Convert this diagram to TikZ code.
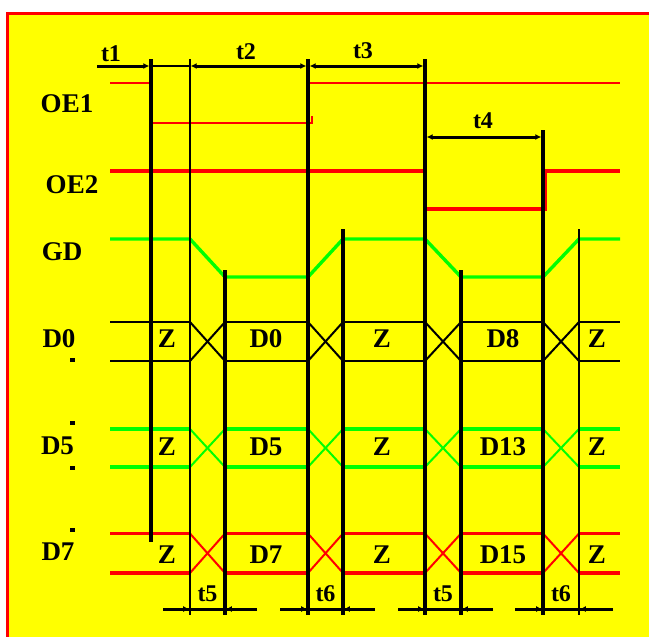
\documentclass[tikz,border=0pt]{standalone}
\usepackage{fontspec}
\setmainfont{Liberation Serif}
\usetikzlibrary{arrows.meta}
\definecolor{ylw}{RGB}{255,255,0}
\definecolor{rd}{RGB}{255,0,0}
\definecolor{grn}{RGB}{0,255,0}
\begin{document}
\begin{tikzpicture}[x=1pt,y=-1pt,
  lab/.style={font=\fontsize{27}{27}\selectfont\bfseries, inner sep=0pt},
  tlab/.style={font=\fontsize{24}{24}\selectfont\bfseries, inner sep=0pt},
  thickv/.style={line width=3.4pt},
  thinv/.style={line width=1.4pt},
  dimline/.style={line width=3pt},
  tipR/.style={-{Latex[length=6pt,width=6pt]}},
  tipB/.style={{Latex[length=6pt,width=6pt]}-{Latex[length=6pt,width=6pt]}},
  dotmk/.style={fill=black, minimum size=4.5pt, inner sep=0pt, draw=none}]
\useasboundingbox (0,0) rectangle (649,637);
\fill[white] (0,0) rectangle (649,637);
\fill[ylw] (6,13) rectangle (649,637);
\draw[rd, line width=3pt] (7,637) -- (7,13.5) -- (649,13.5);
\def\xA{151}\def\xB{190}\def\xC{225}\def\xD{308}\def\xE{343}
\def\xF{425}\def\xG{461}\def\xH{543}\def\xI{579}
% row labels
\node[lab] (lOEa) at (67,104) {OE1};
\node[lab] (lOEb) at (72,185) {OE2};
\node[lab] (lGD) at (62,252) {GD};
\node[lab] (lDa) at (59,339) {D0};
\node[lab] (lDb) at (57.5,446) {D5};
\node[lab] (lDc) at (58,552) {D7};
\node[dotmk] (d1) at (72.5,360) {};
\node[dotmk] (d2) at (72.5,423) {};
\node[dotmk] (d3) at (72.5,468) {};
\node[dotmk] (d4) at (72.5,530) {};
% OE1
\draw[rd, line width=2.4pt] (110,83) -- (\xA,83);
\draw[rd, line width=2.4pt] (\xA,122.7) -- (311.7,122.7) -- (311.7,116);
\draw[rd, line width=2.4pt] (\xD,83) -- (620,83);
% OE2
\draw[rd, line width=3.4pt] (110,171) -- (\xF,171);
\draw[rd, line width=3.4pt] (\xF,209) -- (545.5,209) -- (545.5,171) -- (620,171);
% GD
\draw[grn, line width=3.4pt] (110,239) -- (\xB,239) -- (\xC,277) -- (\xD,277) -- (\xE,239) -- (\xF,239) -- (\xG,277) -- (\xH,277) -- (\xI,239) -- (620,239);
% buses
\foreach \col/\top/\bot/\w in {black/322/361/2.8, grn/429/467/3.4, rd/533.5/573/3.4} {
  \foreach \a/\b in {110/\xB, \xC/\xD, \xE/\xF, \xG/\xH, \xI/620} {
    \draw[\col, line width=\w pt] (\a,\top) -- (\b,\top);
    \draw[\col, line width=\w pt] (\a,\bot) -- (\b,\bot);
  }
  \foreach \a/\b in {\xB/\xC, \xD/\xE, \xF/\xG, \xH/\xI} {
    \draw[\col, line width=2pt] (\a,\top) -- (\b,\bot);
    \draw[\col, line width=2pt] (\a,\bot) -- (\b,\top);
  }
}
% bus labels
\foreach \y/\p/\q/\r in {339/D0/Z/D8, 447/D5/Z/D13, 555/D7/Z/D15} {
  \node[lab] at (167,\y) {Z};
  \node[lab] at (266,\y) {\p};
  \node[lab] at (382,\y) {\q};
  \node[lab] at (503,\y) {\r};
  \node[lab] at (597,\y) {Z};
}
% verticals
\draw[thickv] (\xA,59) -- (\xA,542);
\draw[thinv] (\xB,59) -- (\xB,615);
\draw[thickv] (\xC,270) -- (\xC,615);
\draw[thickv] (\xD,59) -- (\xD,615);
\draw[thickv] (\xE,229) -- (\xE,615);
\draw[thickv] (\xF,59) -- (\xF,615);
\draw[thickv] (\xG,270) -- (\xG,615);
\draw[thickv] (\xH,130) -- (\xH,615);
\draw[thinv] (\xI,229) -- (\xI,615);
% top dimension bars
\draw[dimline, tipR] (97,66) -- (\xA-1.7,66);
\draw[thinv] (\xA,66) -- (\xB,66);
\draw[dimline, tipB] (\xB+0.7,66) -- (\xD-1.7,66);
\draw[dimline, tipB] (\xD+1.7,66) -- (\xF-1.7,66);
\draw[dimline, tipB] (\xF+1.7,137) -- (\xH-1.7,137);
\node[tlab] (t1) at (111,54) {t1};
\node[tlab] (t2) at (246,52) {t2};
\node[tlab] (t3) at (363,51) {t3};
\node[tlab] (t4) at (483,120.5) {t4};
% bottom dimension bars
\foreach \l/\r/\a/\b/\txt in {\xB/\xC/163/257/t5, \xD/\xE/280/375/t6, \xF/\xG/398/493/t5, \xH/\xI/515/613/t6} {
  \draw[dimline] (\a,609) -- (\b,609);
  \draw[dimline, tipR] (\a,609) -- (\l-0.8,609);
  \draw[dimline, tipR] (\b,609) -- (\r+0.8,609);
  \node[tlab] at ({(\l+\r)/2},594) {\txt};
}
\end{tikzpicture}
\end{document}
